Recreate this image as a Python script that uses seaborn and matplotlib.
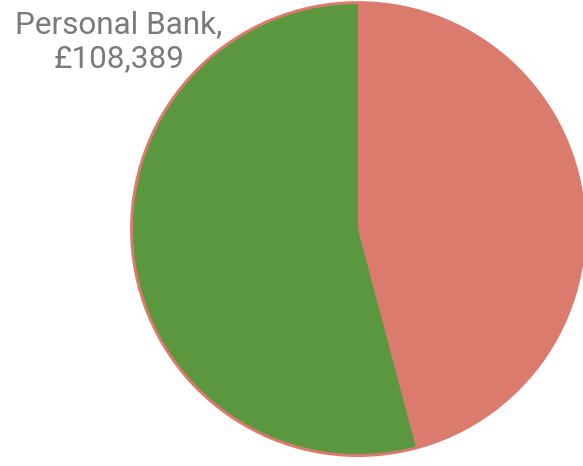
import matplotlib
matplotlib.use("Agg")
import matplotlib.pyplot as plt
import seaborn as sns
from matplotlib.patches import Circle

labels = ["Personal Bank", "Other"]
values = [108389, 91812]
colors = ["#5b973f", "#db7b6e"]

sns.set_theme(style="white")
plt.rcParams['font.family'] = ['Roboto', 'DejaVu Sans']

fig = plt.figure(figsize=(5.83, 4.66), dpi=100)
ax = fig.add_axes([0, 0, 1, 1])

ax.add_patch(Circle((0, 0), 1.013, color=colors[1], zorder=0, lw=0))
ax.pie(values, colors=colors, startangle=90, counterclock=True,
       radius=1.0, center=(0, 0), frame=True,
       wedgeprops=dict(linewidth=0, antialiased=True))
ax.set_xlim(-1.591, 1.0)
ax.set_ylim(-1.053, 1.018)
ax.set_aspect('equal')
ax.axis('off')

ax.text(-1.062, 0.834, f"{labels[0]},\n£{values[0]:,}", ha='center', va='center',
        fontsize=22.7, color='#7a7a7a', linespacing=1.22, fontweight='normal')

fig.savefig("out.png", dpi=100)
